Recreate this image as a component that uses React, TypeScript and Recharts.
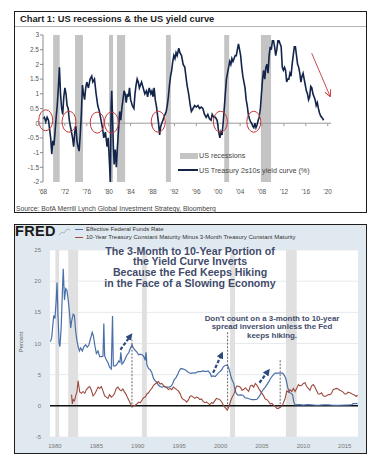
import React from 'react';
import {
  ComposedChart,
  Line,
  XAxis,
  YAxis,
  CartesianGrid,
  ReferenceArea,
  ReferenceLine,
  ReferenceDot
} from 'recharts';

// Chart 1: US 2s10s yield curve (%), [year, value]
const yieldCurve2s10s: [number, number][] = [
  [1968.0, 0.15], [1968.25, 0.2], [1968.5, 0.05], [1968.75, 0.2], [1969.0, 0.1], [1969.2, -0.2],
  [1969.4, -0.5], [1969.6, -1.05], [1969.8, -0.6], [1970.0, -0.75], [1970.2, -0.3], [1970.4, 0.2],
  [1970.6, 0.6], [1970.8, 1.2], [1971.0, 1.9], [1971.2, 1.0], [1971.4, 0.5], [1971.6, 0.3],
  [1971.8, 0.9], [1972.0, 1.2], [1972.2, 1.0], [1972.4, 0.6], [1972.6, 0.5], [1972.8, 0.1],
  [1973.0, -0.1], [1973.2, -0.3], [1973.4, -0.5], [1973.6, -0.8], [1973.8, -0.3], [1974.0, -0.1],
  [1974.2, -0.6], [1974.4, -0.8], [1974.6, -0.95], [1974.8, -0.4], [1975.0, 0.3], [1975.2, 1.3],
  [1975.4, 1.0], [1975.6, 0.8], [1975.8, 1.2], [1976.0, 1.4], [1976.3, 1.2], [1976.6, 1.5],
  [1976.9, 1.6], [1977.1, 1.4], [1977.4, 1.5], [1977.7, 1.0], [1978.0, 0.6], [1978.3, 0.4],
  [1978.6, 0.1], [1978.9, -0.2], [1979.1, -0.5], [1979.4, -0.3], [1979.7, -0.8], [1979.9, -0.5],
  [1980.1, -1.2], [1980.3, -2.0], [1980.45, 0.6], [1980.55, 1.1], [1980.7, 0.2], [1980.85, -0.8],
  [1981.0, -1.4], [1981.2, -0.9], [1981.4, -1.5], [1981.6, -0.8], [1981.8, -0.2], [1982.0, 0.4],
  [1982.2, 0.1], [1982.4, 0.5], [1982.6, 0.8], [1982.8, 1.1], [1983.0, 1.0], [1983.2, 0.7],
  [1983.4, 1.0], [1983.6, 0.9], [1983.8, 1.2], [1984.0, 0.8], [1984.3, 0.6], [1984.6, 0.5],
  [1984.8, 1.0], [1985.0, 1.3], [1985.2, 1.5], [1985.4, 1.4], [1985.6, 1.2], [1985.8, 1.3],
  [1986.0, 1.4], [1986.3, 1.2], [1986.6, 1.0], [1986.9, 1.1], [1987.1, 0.9], [1987.4, 1.2],
  [1987.7, 1.0], [1987.9, 1.1], [1988.1, 0.9], [1988.3, 1.2], [1988.5, 0.8], [1988.7, 0.6],
  [1988.9, 0.3], [1989.1, 0.0], [1989.3, -0.4], [1989.5, -0.1], [1989.7, 0.0], [1989.9, 0.1],
  [1990.1, 0.2], [1990.3, 0.3], [1990.5, 0.4], [1990.7, 0.6], [1990.9, 0.9], [1991.1, 1.3],
  [1991.3, 1.6], [1991.5, 1.8], [1991.7, 2.1], [1991.9, 2.3], [1992.1, 2.2], [1992.3, 2.4],
  [1992.5, 2.3], [1992.8, 2.55], [1993.0, 2.4], [1993.3, 2.3], [1993.6, 2.0], [1993.9, 1.9],
  [1994.1, 1.6], [1994.3, 1.3], [1994.6, 1.0], [1994.9, 0.6], [1995.1, 0.4], [1995.4, 0.5],
  [1995.7, 0.6], [1996.0, 0.55], [1996.3, 0.6], [1996.6, 0.5], [1996.9, 0.55], [1997.2, 0.5],
  [1997.5, 0.3], [1997.8, 0.2], [1998.1, 0.3], [1998.4, 0.15], [1998.7, 0.1], [1998.9, 0.3],
  [1999.2, 0.2], [1999.5, 0.2], [1999.8, 0.1], [2000.1, -0.3], [2000.3, -0.5], [2000.5, -0.3],
  [2000.7, -0.4], [2000.9, 0.0], [2001.1, 0.5], [2001.3, 1.0], [2001.5, 1.5], [2001.7, 1.7],
  [2001.9, 1.9], [2002.1, 2.1], [2002.3, 2.0], [2002.5, 2.2], [2002.7, 2.1], [2002.9, 2.2],
  [2003.1, 2.3], [2003.3, 2.3], [2003.5, 2.5], [2003.7, 2.7], [2003.9, 2.5], [2004.1, 2.3],
  [2004.3, 1.9], [2004.5, 1.6], [2004.7, 1.4], [2004.9, 1.2], [2005.1, 0.8], [2005.3, 0.6],
  [2005.5, 0.3], [2005.7, 0.15], [2005.9, 0.05], [2006.1, 0.0], [2006.3, -0.1], [2006.5, -0.15],
  [2006.7, 0.0], [2006.9, -0.15], [2007.1, -0.05], [2007.3, 0.1], [2007.5, 0.2], [2007.7, 0.5],
  [2007.9, 1.0], [2008.1, 1.5], [2008.3, 1.8], [2008.5, 1.5], [2008.7, 1.9], [2008.9, 2.0],
  [2009.1, 1.7], [2009.3, 2.3], [2009.5, 2.6], [2009.7, 2.5], [2009.9, 2.8], [2010.1, 2.8],
  [2010.3, 2.6], [2010.5, 2.3], [2010.7, 2.5], [2010.9, 2.8], [2011.1, 2.8], [2011.3, 2.7],
  [2011.5, 2.6], [2011.7, 1.9], [2011.9, 1.8], [2012.1, 1.9], [2012.3, 1.8], [2012.5, 1.4],
  [2012.7, 1.5], [2012.9, 1.5], [2013.1, 1.7], [2013.3, 1.6], [2013.5, 2.0], [2013.7, 2.3],
  [2013.9, 2.6], [2014.1, 2.6], [2014.3, 2.3], [2014.5, 2.0], [2014.7, 1.9], [2014.9, 1.7],
  [2015.1, 1.4], [2015.3, 1.6], [2015.5, 1.7], [2015.7, 1.5], [2015.9, 1.3], [2016.1, 1.1],
  [2016.3, 1.0], [2016.5, 0.8], [2016.7, 0.9], [2016.9, 1.25], [2017.1, 1.2], [2017.3, 1.0],
  [2017.5, 0.9], [2017.7, 0.8], [2017.9, 0.6], [2018.1, 0.7], [2018.3, 0.5], [2018.5, 0.35],
  [2018.7, 0.25], [2018.9, 0.2], [2019.1, 0.15], [2019.25, 0.1]
];

const recessions1: [number, number][] = [
  [1969.85, 1971.05], [1973.85, 1975.3], [1980.05, 1980.8], [1981.5, 1983.0],
  [1990.45, 1991.35], [2001.1, 2002.0], [2007.8, 2009.65]
];

const yearTicks1 = [1968, 1972, 1976, 1980, 1984, 1988, 1992, 1996, 2000, 2004, 2008, 2012, 2016, 2020];
const valueTicks1 = [-2, -1.5, -1, -0.5, 0, 0.5, 1, 1.5, 2, 2.5, 3];

// red circles around the inversions [year, value]
const inversionMarks: [number, number][] = [
  [1968.5, 0.1], [1972.75, 0.05], [1977.9, 0.02], [1980.5, 0.02], [1989.05, 0.05], [2000.4, 0.05], [2006.5, 0.05]
];

// Chart 2 (FRED): effective fed funds rate, [year, %]
const fedFunds: [number, number][] = [
  [1979.45, 10.3], [1979.6, 10.9], [1979.75, 13.0], [1979.85, 14.5], [1980.0, 14.0], [1980.15, 17.0],
  [1980.25, 19.8], [1980.35, 15.0], [1980.5, 10.0], [1980.6, 9.5], [1980.75, 12.5], [1980.9, 18.5],
  [1981.0, 22.0], [1981.15, 17.0], [1981.3, 18.8], [1981.45, 18.5], [1981.6, 17.0], [1981.75, 15.0],
  [1981.9, 12.5], [1982.0, 13.5], [1982.2, 14.7], [1982.35, 14.5], [1982.5, 12.0], [1982.65, 10.5],
  [1982.8, 9.5], [1982.95, 8.8], [1983.1, 9.3], [1983.3, 8.8], [1983.5, 9.5], [1983.7, 9.8],
  [1983.9, 9.4], [1984.1, 9.8], [1984.3, 10.8], [1984.5, 11.8], [1984.65, 11.2], [1984.8, 9.8],
  [1985.0, 8.4], [1985.2, 8.8], [1985.4, 7.9], [1985.6, 7.9], [1985.8, 8.0], [1985.9, 13.2],
  [1986.0, 8.0], [1986.2, 7.4], [1986.4, 6.9], [1986.6, 6.2], [1986.8, 5.9], [1986.95, 14.4],
  [1987.05, 6.4], [1987.3, 6.4], [1987.5, 6.7], [1987.7, 7.2], [1987.85, 7.0], [1987.95, 8.6],
  [1988.1, 6.7], [1988.3, 7.0], [1988.5, 7.6], [1988.7, 8.2], [1988.9, 8.5], [1989.1, 9.2],
  [1989.3, 9.8], [1989.5, 9.2], [1989.7, 8.9], [1989.9, 8.6], [1990.1, 8.2], [1990.3, 8.3],
  [1990.5, 8.2], [1990.7, 8.0], [1990.9, 7.3], [1991.0, 8.6], [1991.1, 6.6], [1991.3, 6.0],
  [1991.5, 5.8], [1991.7, 5.3], [1991.9, 4.4], [1992.1, 4.0], [1992.3, 3.8], [1992.5, 3.3],
  [1992.7, 3.1], [1992.9, 3.0], [1993.2, 3.1], [1993.5, 3.0], [1993.8, 3.0], [1994.0, 3.1],
  [1994.2, 3.5], [1994.4, 4.2], [1994.6, 4.5], [1994.8, 5.0], [1995.0, 5.6], [1995.2, 6.0],
  [1995.5, 5.9], [1995.8, 5.7], [1996.1, 5.4], [1996.4, 5.2], [1996.7, 5.3], [1997.0, 5.3],
  [1997.3, 5.5], [1997.6, 5.5], [1997.9, 5.6], [1998.2, 5.5], [1998.5, 5.6], [1998.75, 5.2],
  [1998.9, 4.7], [1999.1, 4.8], [1999.35, 4.7], [1999.6, 5.1], [1999.85, 5.4], [2000.1, 5.7],
  [2000.35, 6.3], [2000.6, 6.5], [2000.85, 6.5], [2001.0, 6.0], [2001.15, 5.3], [2001.3, 4.5],
  [2001.45, 4.0], [2001.6, 3.6], [2001.75, 2.5], [2001.9, 2.0], [2002.1, 1.7], [2002.4, 1.75],
  [2002.7, 1.7], [2002.95, 1.3], [2003.2, 1.25], [2003.5, 1.1], [2003.8, 1.0], [2004.1, 1.0],
  [2004.4, 1.05], [2004.6, 1.4], [2004.8, 1.8], [2005.0, 2.3], [2005.2, 2.7], [2005.4, 3.0],
  [2005.6, 3.4], [2005.8, 3.8], [2006.0, 4.3], [2006.2, 4.7], [2006.4, 5.0], [2006.6, 5.25],
  [2006.9, 5.25], [2007.2, 5.25], [2007.5, 5.25], [2007.7, 4.9], [2007.9, 4.3], [2008.1, 3.0],
  [2008.3, 2.2], [2008.5, 2.0], [2008.7, 1.8], [2008.85, 0.6], [2009.0, 0.15], [2009.5, 0.18],
  [2010.0, 0.12], [2010.5, 0.18], [2011.0, 0.15], [2011.5, 0.09], [2012.0, 0.1], [2012.5, 0.16],
  [2013.0, 0.14], [2013.5, 0.09], [2014.0, 0.07], [2014.5, 0.09], [2015.0, 0.11], [2015.5, 0.13],
  [2015.9, 0.2], [2016.0, 0.36], [2016.3, 0.37], [2016.55, 0.4]
];

// 10-year minus 3-month treasury, [year, %]
const spread10y3m: [number, number][] = [
  [1982.0, 1.8], [1982.1, 0.3], [1982.2, 1.0], [1982.35, 0.8], [1982.5, 1.6], [1982.65, 2.2],
  [1982.8, 4.0], [1982.9, 3.0], [1983.0, 2.2], [1983.2, 2.0], [1983.4, 2.3], [1983.6, 2.0],
  [1983.8, 2.6], [1984.0, 2.9], [1984.2, 3.1], [1984.4, 2.5], [1984.6, 1.6], [1984.8, 1.9],
  [1985.0, 2.4], [1985.2, 3.0], [1985.4, 2.8], [1985.6, 3.1], [1985.8, 2.4], [1986.0, 1.6],
  [1986.2, 1.4], [1986.4, 1.2], [1986.6, 1.8], [1986.8, 1.4], [1987.0, 1.6], [1987.2, 2.0],
  [1987.4, 2.8], [1987.6, 3.0], [1987.8, 2.6], [1988.0, 2.4], [1988.2, 2.7], [1988.4, 2.2],
  [1988.6, 1.8], [1988.8, 1.2], [1989.0, 0.7], [1989.2, 0.1], [1989.35, -0.1], [1989.5, 0.0],
  [1989.7, 0.1], [1989.9, 0.3], [1990.1, 0.6], [1990.3, 0.5], [1990.5, 0.9], [1990.7, 1.3],
  [1990.9, 1.4], [1991.1, 1.9], [1991.3, 2.1], [1991.5, 2.5], [1991.7, 2.8], [1991.9, 3.3],
  [1992.1, 3.5], [1992.3, 3.7], [1992.5, 3.9], [1992.7, 3.5], [1992.9, 3.6], [1993.1, 3.3],
  [1993.3, 3.0], [1993.5, 2.9], [1993.7, 2.6], [1993.9, 2.8], [1994.1, 2.6], [1994.3, 3.0],
  [1994.5, 2.8], [1994.7, 2.6], [1994.9, 2.4], [1995.1, 2.0], [1995.3, 1.3], [1995.5, 1.0],
  [1995.7, 0.9], [1995.9, 0.6], [1996.1, 0.9], [1996.3, 1.5], [1996.5, 1.6], [1996.7, 1.4],
  [1996.9, 1.2], [1997.1, 1.4], [1997.3, 1.3], [1997.5, 1.0], [1997.7, 1.1], [1997.9, 0.7],
  [1998.1, 0.5], [1998.3, 0.6], [1998.5, 0.4], [1998.7, 0.2], [1998.9, 0.5], [1999.1, 0.4],
  [1999.3, 0.8], [1999.5, 1.2], [1999.7, 1.1], [1999.9, 1.0], [2000.1, 0.7], [2000.3, 0.2],
  [2000.5, -0.2], [2000.7, -0.5], [2000.8, -0.7], [2000.95, -0.3], [2001.1, 0.3], [2001.3, 1.1],
  [2001.5, 1.6], [2001.7, 2.2], [2001.85, 2.9], [2002.0, 3.2], [2002.2, 3.1], [2002.4, 3.0],
  [2002.6, 2.5], [2002.8, 2.6], [2003.0, 2.9], [2003.2, 2.6], [2003.4, 2.3], [2003.6, 3.2],
  [2003.8, 3.3], [2004.0, 3.0], [2004.2, 3.6], [2004.4, 3.3], [2004.6, 2.8], [2004.8, 2.4],
  [2005.0, 2.0], [2005.2, 1.6], [2005.4, 1.1], [2005.6, 1.0], [2005.8, 0.7], [2006.0, 0.3],
  [2006.2, 0.4], [2006.4, 0.1], [2006.6, -0.1], [2006.8, -0.4], [2007.0, -0.4], [2007.2, -0.2],
  [2007.4, -0.1], [2007.6, 0.5], [2007.8, 1.2], [2008.0, 2.4], [2008.2, 2.2], [2008.4, 2.6],
  [2008.6, 2.3], [2008.8, 2.8], [2009.0, 2.3], [2009.2, 2.8], [2009.4, 3.4], [2009.6, 3.2],
  [2009.8, 3.3], [2010.0, 3.6], [2010.2, 3.7], [2010.4, 3.1], [2010.6, 2.8], [2010.8, 2.5],
  [2011.0, 3.2], [2011.2, 3.4], [2011.4, 3.0], [2011.6, 2.4], [2011.8, 1.9], [2012.0, 1.9],
  [2012.2, 2.1], [2012.4, 1.6], [2012.6, 1.5], [2012.8, 1.6], [2013.0, 1.8], [2013.2, 1.8],
  [2013.4, 2.0], [2013.6, 2.6], [2013.8, 2.7], [2014.0, 2.8], [2014.2, 2.7], [2014.4, 2.5],
  [2014.6, 2.4], [2014.8, 2.2], [2015.0, 1.9], [2015.2, 1.9], [2015.4, 2.2], [2015.6, 2.1],
  [2015.8, 2.0], [2016.0, 1.8], [2016.2, 1.7], [2016.4, 1.5], [2016.55, 1.7]
];

const recessions2: [number, number][] = [
  [1980.05, 1980.5], [1981.6, 1982.8], [1990.5, 1991.1], [2001.15, 2001.75], [2007.9, 2009.2]
];

const yearTicks2 = [1980, 1985, 1990, 1995, 2000, 2005, 2010, 2015];
const valueTicks2 = [-5, 0, 5, 10, 15, 20, 25];

// dashed markers at the inversions: [year, bottom, top]
const inversionDrops: [number, number, number][] = [
  [1989.3, -0.3, 10.6], [2000.85, -0.3, 11.9], [2007.2, -0.3, 7.4]
];
// hiking arrows: [fromYear, fromValue, toYear, toValue]
const hikeArrows: [number, number, number, number][] = [
  [1987.9, 9.0, 1989.1, 11.2], [1999.1, 5.3, 2000.1, 8.2], [2004.7, 3.7, 2005.7, 5.5]
];

const title2Lines = [
  'The 3-Month to 10-Year Portion of',
  'the Yield Curve Inverts',
  'Because the Fed Keeps Hiking',
  'in the Face of a Slowing Economy'
];
const note2Lines = ["Don't count on a 3-month to 10-year", 'spread inversion unless the Fed', 'keeps hiking.'];

const FONT = '"Liberation Sans", Arial, sans-serif';
const toRows = (pairs: [number, number][]) => pairs.map(([t, v]) => ({ t, v }));

const arrowLine = (marker: string, color: string, width: number, dash?: string) => (p: any) => (
  <line
    x1={p.x1}
    y1={p.y1}
    x2={p.x2}
    y2={p.y2}
    stroke={color}
    strokeWidth={width}
    strokeDasharray={dash}
    markerEnd={`url(#${marker})`}
  />
);

const ellipseShape = (p: any) => (
  <ellipse cx={p.cx} cy={p.cy} rx={7} ry={10.5} fill="none" stroke="#c4373a" strokeWidth={1} />
);

function TopChart() {
  const data = toRows(yieldCurve2s10s);
  return (
    <ComposedChart width={379} height={215} data={data} margin={{ top: 35, right: 48, bottom: 13, left: 13 }}>
      {recessions1.map(([a, b]) => (
        <ReferenceArea key={a} x1={a} x2={b} y1={-2} y2={3} fill="#c4c4c4" fillOpacity={1} stroke="none" />
      ))}
      <XAxis
        type="number"
        dataKey="t"
        domain={[1968, 2020.6]}
        ticks={yearTicks1}
        tickFormatter={(y: number) => `'${String(y).slice(2)}`}
        axisLine={false}
        tickLine={false}
        tickMargin={1}
        height={20}
        tick={{ fontSize: 6.5, fill: '#555', fontFamily: FONT }}
      />
      <YAxis
        type="number"
        domain={[-2, 3]}
        ticks={valueTicks1}
        width={30}
        axisLine={{ stroke: '#8a8a8a' }}
        tickLine={{ stroke: '#8a8a8a' }}
        tickSize={3}
        tickMargin={1}
        tick={{ fontSize: 6.5, fill: '#555', fontFamily: FONT }}
      />
      <ReferenceLine y={0} stroke="#9a9a9a" strokeWidth={1} />
      {yearTicks1.slice(1).map((y) => (
        <ReferenceLine key={y} segment={[{ x: y, y: 0 }, { x: y, y: -0.1 }]} stroke="#9a9a9a" />
      ))}
      <Line
        type="linear"
        dataKey="v"
        stroke="#13254a"
        strokeWidth={1.6}
        dot={false}
        isAnimationActive={false}
      />
      {inversionMarks.map(([x, y]) => (
        <ReferenceDot key={x} x={x} y={y} r={8} shape={ellipseShape} />
      ))}
      <ReferenceLine
        segment={[{ x: 2017.08, y: 2.38 }, { x: 2020.42, y: 0.92 }]}
        ifOverflow="visible"
        shape={arrowLine('redHead', '#c4373a', 0.9)}
      />
    </ComposedChart>
  );
}

function BottomChart() {
  return (
    <ComposedChart width={379} height={240} margin={{ top: 30, right: 21, bottom: 7, left: 30 }}>
      <CartesianGrid vertical={false} stroke="#e6e9ee" fill="#ffffff" />
      {recessions2.map(([a, b]) => (
        <ReferenceArea key={a} x1={a} x2={b} y1={-5} y2={25} fill="#e0e0e0" fillOpacity={1} stroke="none" />
      ))}
      <XAxis
        type="number"
        dataKey="t"
        domain={[1979.4, 2016.6]}
        ticks={yearTicks2}
        allowDuplicatedCategory={false}
        axisLine={false}
        tickLine={false}
        tickMargin={1}
        height={16}
        tick={{ fontSize: 6, fill: '#777', fontFamily: FONT }}
      />
      <YAxis
        type="number"
        domain={[-5, 25]}
        ticks={valueTicks2}
        width={20}
        axisLine={false}
        tickLine={false}
        tickSize={0}
        tickMargin={9}
        tick={{ fontSize: 6, fill: '#777', fontFamily: FONT }}
      />
      <ReferenceLine y={0} stroke="#111" strokeWidth={1.5} />
      <Line
        data={toRows(fedFunds)}
        type="linear"
        dataKey="v"
        stroke="#4a6fa8"
        strokeWidth={1.2}
        dot={false}
        isAnimationActive={false}
      />
      <Line
        data={toRows(spread10y3m)}
        type="linear"
        dataKey="v"
        stroke="#9c4a3e"
        strokeWidth={1.1}
        dot={false}
        isAnimationActive={false}
      />
      {inversionDrops.map(([x, lo, hi]) => (
        <ReferenceLine
          key={x}
          segment={[{ x, y: lo }, { x, y: hi }]}
          stroke="#555"
          strokeWidth={0.9}
          strokeDasharray="2 1.5"
        />
      ))}
      {hikeArrows.map(([x1, y1, x2, y2]) => (
        <ReferenceLine
          key={x1}
          segment={[{ x: x1, y: y1 }, { x: x2, y: y2 }]}
          shape={arrowLine('blueHead', '#2c4a7c', 2.2, '3.5 1.8')}
        />
      ))}
    </ComposedChart>
  );
}

export default function App() {
  return (
    <div
      style={{
        position: 'absolute',
        left: 0,
        top: 0,
        width: 379,
        height: 464,
        background: '#fff',
        fontFamily: FONT,
        overflow: 'hidden'
      }}
    >
      <svg width={0} height={0} style={{ position: 'absolute' }}>
        <defs>
          <marker id="redHead" viewBox="0 0 10 10" refX="9" refY="5" markerWidth="7" markerHeight="7" markerUnits="userSpaceOnUse" orient="auto">
            <path d="M0,0 L10,5 L0,10" fill="none" stroke="#c4373a" strokeWidth="1.4" />
          </marker>
          <marker id="blueHead" viewBox="0 0 10 10" refX="5" refY="5" markerWidth="7" markerHeight="7" markerUnits="userSpaceOnUse" orient="auto">
            <path d="M0,0 L10,5 L0,10 z" fill="#2c4a7c" />
          </marker>
        </defs>
      </svg>

      {/* chart 1 frame */}
      <div style={{ position: 'absolute', left: 14, top: 11, width: 351, height: 200, border: '1.5px solid #1e1e1e' }} />
      <div style={{ position: 'absolute', left: 15, top: 26, width: 351, height: 1, background: '#b5b5b5' }} />
      <div style={{ position: 'absolute', left: 20, top: 13.5, fontSize: 9.3, fontWeight: 'bold', color: '#222', whiteSpace: 'nowrap' }}>
        Chart 1: US recessions &amp; the US yield curve
      </div>
      <div style={{ position: 'absolute', left: 0, top: 0 }}>
        <TopChart />
      </div>
      <div style={{ position: 'absolute', left: 180, top: 153, width: 18, height: 6, background: '#c4c4c4' }} />
      <div style={{ position: 'absolute', left: 199, top: 151, fontSize: 7.2, color: '#444', whiteSpace: 'nowrap' }}>US recessions</div>
      <div style={{ position: 'absolute', left: 178, top: 169.3, width: 20, height: 1.5, background: '#13254a' }} />
      <div style={{ position: 'absolute', left: 199, top: 166, fontSize: 7.2, color: '#444', whiteSpace: 'nowrap' }}>
        US Treasury 2s10s yield curve (%)
      </div>
      <div style={{ position: 'absolute', left: 16, top: 204.5, fontSize: 6.8, color: '#444', whiteSpace: 'nowrap' }}>
        Source: BofA Merrill Lynch Global Investment Strategy, Bloomberg
      </div>

      {/* chart 2 frame */}
      <div
        style={{
          position: 'absolute',
          left: 14,
          top: 224,
          width: 351,
          height: 228,
          border: '1.5px solid #1e1e1e',
          background: '#e1e9f0'
        }}
      />
      <div style={{ position: 'absolute', left: 15, top: 224, fontSize: 14.5, fontWeight: 'bold', color: '#1b1b1b', lineHeight: '14px', letterSpacing: 0.3 }}>
        FRED
      </div>
      <svg style={{ position: 'absolute', left: 59, top: 227 }} width={12} height={9}>
        <polyline points="0,8 3,5 5,6 8,2 11,3" fill="none" stroke="#9aa5b5" strokeWidth={0.8} />
      </svg>
      <div style={{ position: 'absolute', left: 75, top: 229, width: 8, height: 1.2, background: '#4a6fa8' }} />
      <div style={{ position: 'absolute', left: 86, top: 226, fontSize: 6, color: '#333', whiteSpace: 'nowrap' }}>
        Effective Federal Funds Rate
      </div>
      <div style={{ position: 'absolute', left: 75, top: 236.5, width: 8, height: 1.2, background: '#9c4a3e' }} />
      <div style={{ position: 'absolute', left: 86, top: 233.5, fontSize: 6, color: '#333', whiteSpace: 'nowrap' }}>
        10-Year Treasury Constant Maturity Minus 3-Month Treasury Constant Maturity
      </div>
      <div style={{ position: 'absolute', left: 0, top: 220 }}>
        <BottomChart />
      </div>
      <div
        style={{
          position: 'absolute',
          left: 4,
          top: 339,
          width: 34,
          fontSize: 6,
          color: '#666',
          textAlign: 'center',
          transform: 'rotate(-90deg)'
        }}
      >
        Percent
      </div>
      <div
        style={{
          position: 'absolute',
          left: 70,
          top: 245.5,
          width: 240,
          textAlign: 'center',
          fontSize: 10.6,
          lineHeight: '10.7px',
          fontWeight: 'bold',
          color: '#3f4c6b'
        }}
      >
        {title2Lines.map((l) => (
          <div key={l}>{l}</div>
        ))}
      </div>
      <div
        style={{
          position: 'absolute',
          left: 192,
          top: 314.5,
          width: 160,
          textAlign: 'center',
          fontSize: 7.9,
          lineHeight: '8.7px',
          fontWeight: 'bold',
          color: '#3f4c6b'
        }}
      >
        {note2Lines.map((l) => (
          <div key={l}>{l}</div>
        ))}
      </div>
    </div>
  );
}
